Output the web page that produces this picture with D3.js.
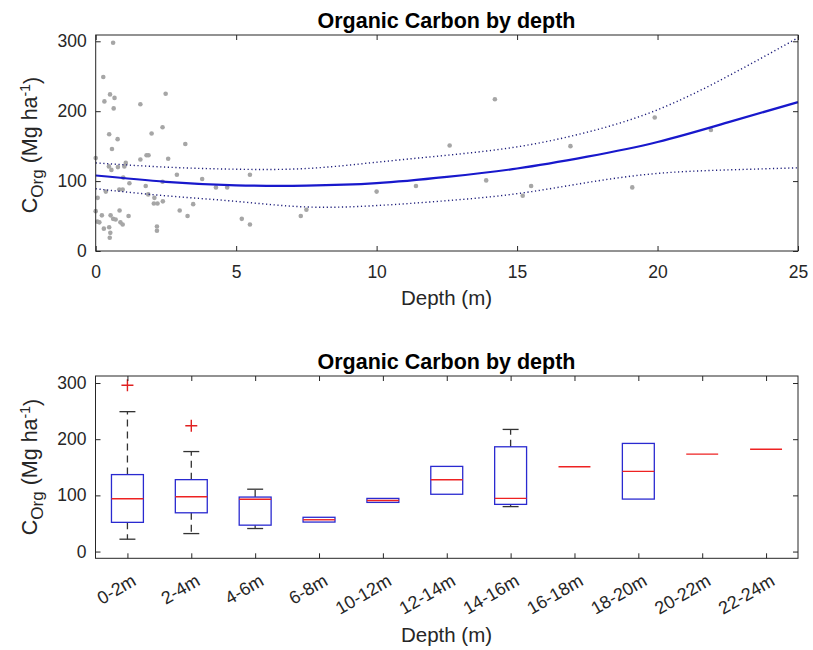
<!DOCTYPE html>
<html>
<head>
<meta charset="utf-8">
<script src="https://cdn.jsdelivr.net/npm/d3@7"></script>
<style>
  body { margin: 0; background: #fff; }
  text { font-family: "Liberation Sans", Arial, sans-serif; fill: #262626; }
</style>
</head>
<body>
<svg id="chart" width="813" height="650"></svg>
<script>
// scatter samples
var sampleDepth  = [0.62,0.27,0.31,0.51,0.67,0.64,1.59,2.49,2.38,0.48,0.78,1.99,3.19,0.58,0.00,1.81,1.88,1.59,2.58,0.47,
                    0.56,0.79,1.02,1.07,0.98,2.89,5.49,1.20,2.38,1.78,3.79,4.28,4.68,0.36,0.84,0.96,1.87,0.07,2.09,2.07,
                    2.20,2.39,3.47,0.00,0.85,2.99,0.22,0.53,1.17,3.27,0.62,0.71,0.06,0.13,0.88,0.96,5.20,5.49,0.29,0.48,
                    0.52,0.50,2.18,2.18,14.21,12.6,11.4,13.9,10.0,7.3,7.5,15.5,15.2,16.9,19.9,19.1,21.9];
var sampleCarbon = [298,249,214,224,219,204,210,225,177,167,160,168,153,146,133,137,137,131,132,121,
                    116,120,121,126,105,109,109,97,99,93,103,91,91,85,88,88,81,76,76,68,
                    68,71,67,57,58,58,51,51,50,50,46,45,42,41,41,38,46,38,32,34,
                    26,19,35,29,217,151,93,101,85,50,59,93,79,150,191,91,173];

// fitted curve and its bounds, read at fixed depths
var fitDepth  = [0, 2.5, 5, 7.5, 10, 12.5, 15, 17.5, 20, 22.5, 25];
var fitCarbon = [108, 99, 94, 93.5, 97, 106, 118, 135, 156, 184, 213];
var fitUpper  = [126, 120, 117, 118, 127, 137, 149, 170, 202, 250, 305];
var fitLower  = [89, 79, 71, 63, 65, 72, 82, 98, 111, 116, 119];

// box plot statistics per depth class
var boxLabels  = ["0-2m","2-4m","4-6m","6-8m","10-12m","12-14m","14-16m","16-18m","18-20m","20-22m","22-24m"];
var boxLow     = [22, 32, 41, 52.5, 87.5, 102, 80, 151, 93.4, 173.5, 182];
var boxQ1      = [52, 69, 47, 52.5, 87.5, 102, 84, 151, 93.4, 173.5, 182];
var boxMedian  = [94, 97.5, 93, 56.6, 91, 127.8, 94.7, 151, 142.7, 173.5, 182];
var boxQ3      = [137, 128, 97, 61, 94.6, 151.6, 186.5, 151, 192.5, 173.5, 182];
var boxHigh    = [249, 178, 111, 61, 94.6, 151.6, 217.4, 151, 192.5, 173.5, 182];
var outlierBox   = [0, 1];
var outlierValue = [296, 224];

var carbonTicks = [0, 100, 200, 300];
var depthTicks  = [0, 5, 10, 15, 20, 25];

var svg = d3.select("#chart");
svg.append("rect").attr("width", 813).attr("height", 650).attr("fill", "#fff");

var TICK_FONT = "17.5px", LABEL_FONT = "20.5px", TITLE_FONT = "21.5px";
var frameColor = "#262626";

function addTitle(cx, y, txt){
    svg.append("text").attr("x", cx).attr("y", y)
        .attr("text-anchor", "middle")
        .style("font-size", TITLE_FONT).style("font-weight", "bold")
        .style("fill", "#000")
        .text(txt);
}

function addYLabel(x, cy){
    var t = svg.append("text")
        .attr("transform", "translate(" + x + "," + cy + ") rotate(-90)")
        .attr("text-anchor", "middle")
        .style("font-size", "21.5px");
    t.append("tspan").text("C");
    t.append("tspan").attr("dy", "0.35em").style("font-size", "17px").text("Org");
    t.append("tspan").attr("dy", "-0.3em").text(" (Mg ha");
    t.append("tspan").attr("dy", "-0.45em").style("font-size", "14px").text("-1");
    t.append("tspan").attr("dy", "0.4em").text(")");
}

function addXLabel(cx, y){
    svg.append("text").attr("x", cx).attr("y", y)
        .attr("text-anchor", "middle")
        .style("font-size", LABEL_FONT)
        .text("Depth (m)");
}

// frame plus inward ticks on all four sides, matlab style
function drawFrame(x, y, xTicks, yTicks, xFormat){
    var x0 = x.range()[0], x1 = x.range()[1];
    var y0 = y.range()[0], y1 = y.range()[1];
    var g = svg.append("g");

    var bottom = g.append("g").attr("transform", "translate(0," + y0 + ")")
        .call(d3.axisBottom(x).tickValues(xTicks).tickSizeInner(-5).tickSizeOuter(0)
            .tickPadding(15).tickFormat(xFormat || d3.format("d")));
    g.append("g").attr("transform", "translate(0," + y1 + ")")
        .call(d3.axisTop(x).tickValues(xTicks).tickSizeInner(-5).tickSizeOuter(0).tickFormat(""));
    g.append("g").attr("transform", "translate(" + x0 + ",0)")
        .call(d3.axisLeft(y).tickValues(yTicks).tickSizeInner(-5).tickSizeOuter(0)
            .tickPadding(9).tickFormat(d3.format("d")));
    g.append("g").attr("transform", "translate(" + x1 + ",0)")
        .call(d3.axisRight(y).tickValues(yTicks).tickSizeInner(-5).tickSizeOuter(0).tickFormat(""));

    g.selectAll(".domain").remove();
    g.selectAll(".tick line").attr("stroke", frameColor);
    g.selectAll(".tick text").style("font-size", TICK_FONT).attr("fill", frameColor)
        .style("font-family", "\"Liberation Sans\", Arial, sans-serif");

    g.append("rect")
        .attr("x", x0).attr("y", y1)
        .attr("width", x1 - x0).attr("height", y0 - y1)
        .attr("fill", "none").attr("stroke", frameColor).attr("stroke-width", 1);
    return bottom;
}

// ---------- top panel: scatter with fit ----------
var xTop = d3.scaleLinear().domain([0, 25]).range([95.7, 798]);
var yTop = d3.scaleLinear().domain([0, 309]).range([251, 35]);

var scatterG = svg.append("g");
scatterG.selectAll("circle")
    .data(sampleDepth)
    .enter().append("circle")
    .attr("cx", function(d){ return xTop(d); })
    .attr("cy", function(d, i){ return yTop(sampleCarbon[i]); })
    .attr("r", 2.3)
    .attr("fill", "#a6a6a6");

var fitLine = d3.line()
    .x(function(d, i){ return xTop(fitDepth[i]); })
    .y(function(d){ return yTop(d); })
    .curve(d3.curveNatural);

[fitUpper, fitLower].forEach(function(band){
    svg.append("path").datum(band)
        .attr("d", fitLine)
        .attr("fill", "none")
        .attr("stroke", "#1c1c7a")
        .attr("stroke-width", 1.4)
        .attr("stroke-dasharray", "1.2,2.6");
});
svg.append("path").datum(fitCarbon)
    .attr("d", fitLine)
    .attr("fill", "none")
    .attr("stroke", "#1818cc")
    .attr("stroke-width", 2.2);

drawFrame(xTop, yTop, depthTicks, carbonTicks);
addTitle(446.5, 28, "Organic Carbon by depth");
addXLabel(446.5, 305);
addYLabel(37, 145);

// ---------- bottom panel: box plots ----------
var xBot = d3.scaleLinear().domain([0.5, boxLabels.length + 0.5]).range([95.5, 798]);
var yBot = d3.scaleLinear().domain([-12, 312.5]).range([558.3, 376]);
var step = xBot(2) - xBot(1);
var boxHalf = step * 0.25, capHalf = step * 0.125;

var boxes = svg.append("g").selectAll("g")
    .data(boxLabels)
    .enter().append("g");

// whiskers (dashed) and caps
boxes.each(function(lbl, i){
    var g = d3.select(this), cx = xBot(i + 1);
    if (boxHigh[i] > boxQ3[i]){
        g.append("line").attr("x1", cx).attr("x2", cx)
            .attr("y1", yBot(boxQ3[i])).attr("y2", yBot(boxHigh[i]))
            .attr("stroke", "#333").attr("stroke-width", 1.3).attr("stroke-dasharray", "7,5");
        g.append("line").attr("x1", cx - capHalf).attr("x2", cx + capHalf)
            .attr("y1", yBot(boxHigh[i])).attr("y2", yBot(boxHigh[i]))
            .attr("stroke", "#333").attr("stroke-width", 1.3);
    }
    if (boxLow[i] < boxQ1[i]){
        g.append("line").attr("x1", cx).attr("x2", cx)
            .attr("y1", yBot(boxQ1[i])).attr("y2", yBot(boxLow[i]))
            .attr("stroke", "#333").attr("stroke-width", 1.3).attr("stroke-dasharray", "7,5");
        g.append("line").attr("x1", cx - capHalf).attr("x2", cx + capHalf)
            .attr("y1", yBot(boxLow[i])).attr("y2", yBot(boxLow[i]))
            .attr("stroke", "#333").attr("stroke-width", 1.3);
    }
    g.append("rect")
        .attr("x", cx - boxHalf).attr("y", yBot(boxQ3[i]))
        .attr("width", boxHalf * 2).attr("height", Math.max(0, yBot(boxQ1[i]) - yBot(boxQ3[i])))
        .attr("fill", "none").attr("stroke", "#2a2ad0").attr("stroke-width", 1.3);
    g.append("line").attr("x1", cx - boxHalf).attr("x2", cx + boxHalf)
        .attr("y1", yBot(boxMedian[i])).attr("y2", yBot(boxMedian[i]))
        .attr("stroke", "#ee2222").attr("stroke-width", 1.4);
});

// outliers as red plus signs
outlierBox.forEach(function(b, k){
    var cx = xBot(b + 1), cy = yBot(outlierValue[k]), s = 6;
    svg.append("path")
        .attr("d", "M" + (cx - s) + "," + cy + "H" + (cx + s) + "M" + cx + "," + (cy - s) + "V" + (cy + s))
        .attr("stroke", "#e02020").attr("stroke-width", 1.4).attr("fill", "none");
});

var botAxis = drawFrame(xBot, yBot, d3.range(1, boxLabels.length + 1), carbonTicks,
    function(d){ return boxLabels[d - 1]; });
botAxis.selectAll(".tick text")
    .attr("y", 0)
    .attr("text-anchor", "end")
    .attr("transform", "translate(3,15) rotate(-30)")
    .attr("dy", "0.71em")
    .style("font-size", "18px");

addTitle(446.5, 369, "Organic Carbon by depth");
addXLabel(446.5, 642);
addYLabel(37, 467);
</script>
</body>
</html>
